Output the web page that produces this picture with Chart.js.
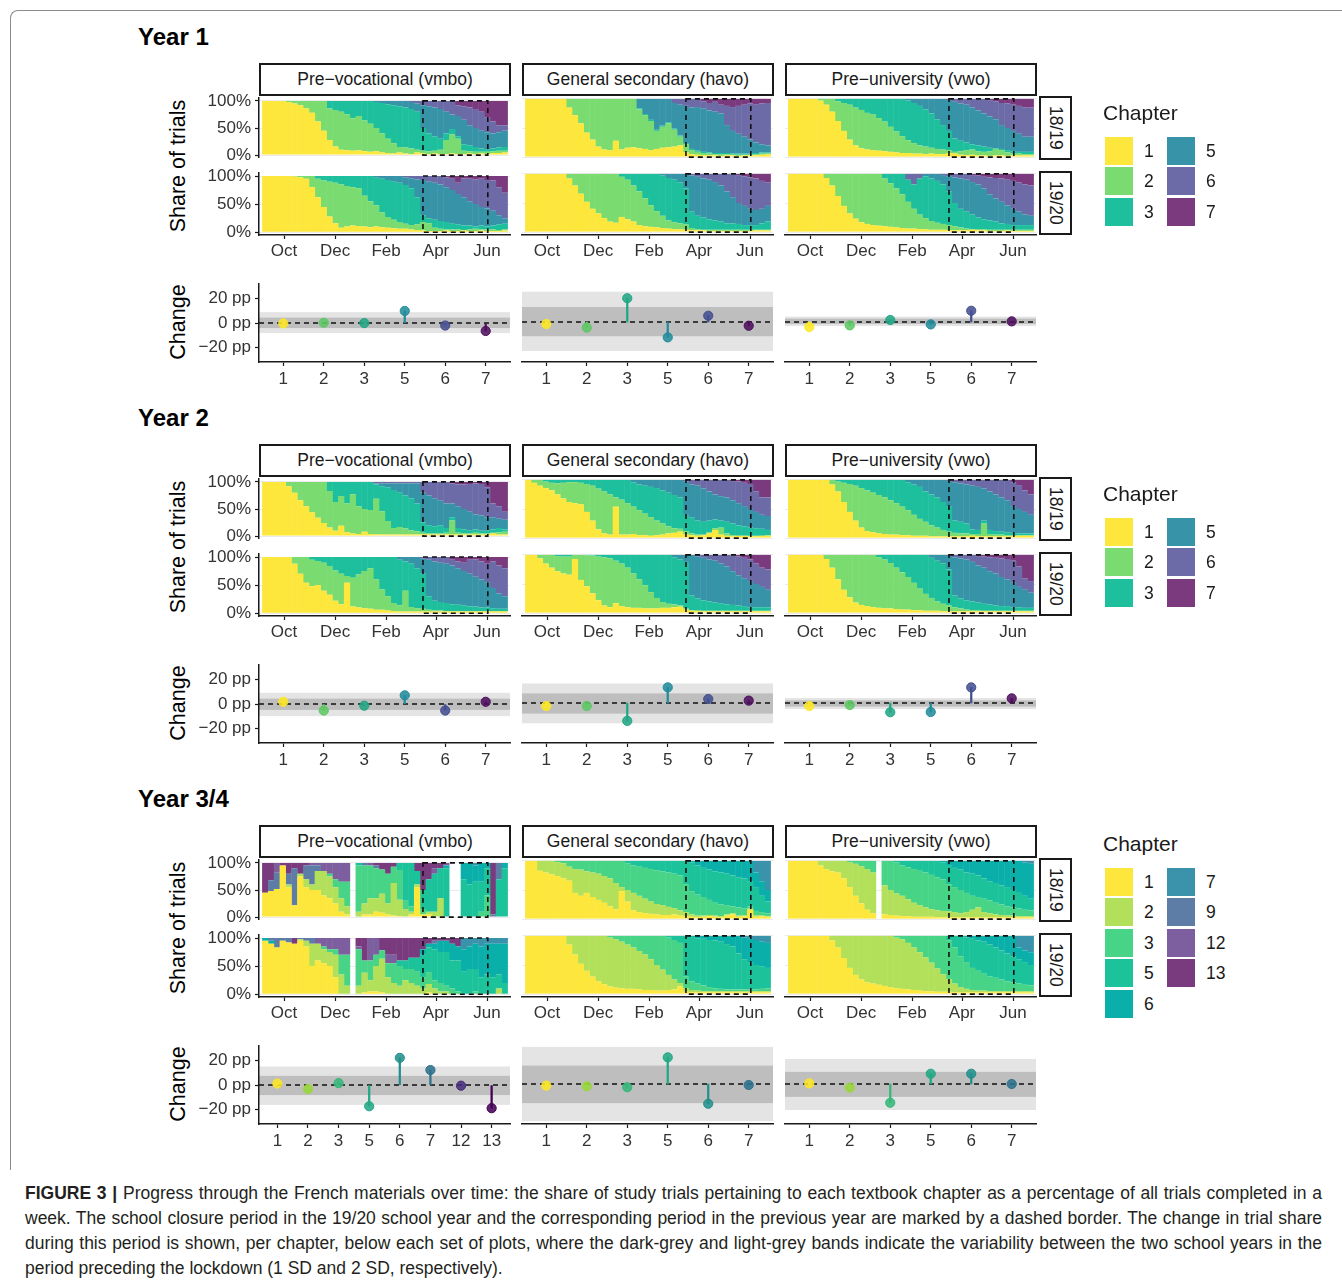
<!DOCTYPE html>
<html><head><meta charset="utf-8">
<script src="https://cdn.jsdelivr.net/npm/chart.js@4.4.1/dist/chart.umd.min.js"></script>
<style>
html,body{margin:0;padding:0;background:#fff;}
#root{position:relative;width:1342px;height:1285px;overflow:hidden;font-family:"Liberation Sans",Arial,Helvetica,sans-serif;color:#1a1a1a;}
canvas{position:absolute;}
.abs{position:absolute;white-space:nowrap;}
.strip{position:absolute;box-sizing:border-box;border:2px solid #1a1a1a;background:#fff;display:flex;align-items:center;justify-content:center;font-size:17.5px;color:#1a1a1a;}
.vstrip{writing-mode:vertical-rl;}
.key{position:absolute;width:28px;height:28px;}
.cap{position:absolute;left:25px;width:1297px;font-size:17.5px;line-height:25px;color:#231f20;white-space:nowrap;}
.just{text-align:justify;text-align-last:justify;}
</style></head>
<body><div id="root"></div>
<script>
// ===================== DATA =====================
const MONTH_LABELS = ['Oct','Dec','Feb','Apr','Jun'];
const MONTH_WEEKS = [3.22, 11.95, 20.68, 29.24, 37.97];
const CLOSURE_WEEKS = [27.0, 38.1];
const CHAPTERS_6 = [1,2,3,5,6,7];
const CHAPTERS_9 = [1,2,3,5,6,7,9,12,13];
const CHANGE_CATS_Y34_VMBO = [1,2,3,5,6,7,12,13];

// cumulative top (%) of chapters 1,2,3,5,6 per week (chapter 7 fills to 100)
const Y1_VMBO_1819 = [
[100,100,100,100,98,95,92,86,78,62,45,28,16,10,9,8,9,7,6,7,5,4,3,5,3,2,5,3,2,3,2,2,3,2,2,3,2,3,2,4,4,5],
[100,100,100,100,100,100,100,100,100,100,100,86,83,80,75,68,72,64,58,50,40,30,22,15,14,12,10,8,7,8,10,28,38,30,8,7,6,6,6,7,8,8],
[100,100,100,100,100,100,100,100,100,100,100,100,100,100,100,100,100,100,100,98,96,94,92,90,88,85,80,50,40,35,30,40,48,35,20,18,15,12,10,12,14,15],
[100,100,100,100,100,100,100,100,100,100,100,100,100,100,100,100,100,100,100,100,100,100,100,100,100,98,95,92,90,88,85,80,75,72,65,55,50,45,42,40,42,45],
[100,100,100,100,100,100,100,100,100,100,100,100,100,100,100,100,100,100,100,100,100,100,100,100,100,100,100,100,100,100,100,100,100,92,90,88,85,80,70,62,55,55]];
const Y1_VMBO_1920 = [
[100,100,100,100,100,99,98,95,80,62,45,28,16,8,10,12,11,10,9,10,9,8,7,6,6,5,4,3,2,2,2,3,2,2,3,2,2,3,2,2,2,3],
[100,100,100,100,100,100,100,100,100,95,92,90,88,85,82,80,78,65,55,48,35,27,22,18,15,13,14,18,16,8,6,5,5,5,4,5,6,5,5,5,4,5],
[100,100,100,100,100,100,100,100,100,100,100,100,100,100,100,100,100,100,100,97,95,93,90,88,84,78,62,30,25,22,20,18,15,14,12,12,10,12,10,12,14,15],
[100,100,100,100,100,100,100,100,100,100,100,100,100,100,100,100,100,100,100,100,100,100,100,100,98,96,94,93,90,88,85,80,75,68,62,55,50,45,42,38,30,25],
[100,100,100,100,100,100,100,100,100,100,100,100,100,100,100,100,100,100,100,100,100,100,100,100,100,100,100,100,100,100,100,98,95,88,96,95,94,95,93,92,80,70]];
const Y1_HAVO_1819 = [
[100,100,100,100,100,100,100,85,72,58,42,30,18,13,12,28,13,16,17,15,14,12,14,16,17,18,20,8,5,4,3,3,3,2,3,3,2,3,3,3,4,5],
[100,100,100,100,100,100,100,100,100,100,100,100,100,100,100,100,100,100,100,82,72,62,45,52,58,47,35,22,12,9,7,6,5,5,5,4,4,4,4,5,6,6],
[100,100,100,100,100,100,100,100,100,100,100,100,100,100,100,100,100,100,100,84,74,64,47,54,60,49,37,24,14,11,9,8,7,7,7,6,6,6,6,7,8,8],
[100,100,100,100,100,100,100,100,100,100,100,100,100,100,100,100,100,100,100,100,100,100,100,100,100,93,90,88,85,86,84,80,78,75,55,45,40,35,30,25,22,20],
[100,100,100,100,100,100,100,100,100,100,100,100,100,100,100,100,100,100,100,100,100,100,100,100,100,100,100,100,100,100,96,93,95,90,88,86,88,90,92,90,92,93]];
const Y1_HAVO_1920 = [
[100,100,100,100,100,100,100,92,80,66,52,40,32,24,18,16,26,22,18,12,10,9,8,7,6,5,5,4,3,3,3,2,2,2,2,2,2,2,2,3,3,3],
[100,100,100,100,100,100,100,100,100,100,100,100,100,100,100,100,95,90,80,70,58,46,36,28,20,17,15,13,7,5,4,4,4,4,4,4,4,4,4,4,4,4],
[100,100,100,100,100,100,100,100,100,100,100,100,100,100,100,100,100,100,100,100,100,100,100,97,93,90,85,75,35,28,25,22,20,18,15,15,14,12,12,12,15,18],
[100,100,100,100,100,100,100,100,100,100,100,100,100,100,100,100,100,100,100,100,100,100,100,100,100,100,100,100,97,95,92,90,86,80,70,60,50,45,40,38,40,45],
[100,100,100,100,100,100,100,100,100,100,100,100,100,100,100,100,100,100,100,100,100,100,100,100,100,100,100,100,100,100,100,100,100,100,100,99,98,96,94,92,88,85]];
const Y1_VWO_1819 = [
[100,100,100,100,100,97,90,78,62,45,30,20,15,13,12,11,10,9,8,7,7,6,6,5,6,5,5,7,6,4,3,4,3,3,2,3,3,2,3,3,3,3],
[100,100,100,100,100,100,100,100,96,93,90,85,81,76,73,67,61,52,44,36,29,24,20,18,16,14,13,12,9,10,12,13,10,9,10,14,12,8,6,6,5,5],
[100,100,100,100,100,100,100,100,100,100,100,100,100,100,100,100,100,100,100,100,97,93,88,82,75,65,55,45,32,28,25,22,20,18,16,15,14,12,10,9,9,9],
[100,100,100,100,100,100,100,100,100,100,100,100,100,100,100,100,100,100,100,100,100,100,100,100,100,100,100,98,95,92,90,85,80,75,70,65,55,50,45,40,35,35],
[100,100,100,100,100,100,100,100,100,100,100,100,100,100,100,100,100,100,100,100,100,100,100,100,100,100,100,100,100,100,100,100,100,100,98,96,93,92,90,88,85,85]];
const Y1_VWO_1920 = [
[100,100,100,100,100,100,93,80,62,45,32,23,17,14,12,11,10,9,8,7,6,6,5,5,4,4,4,3,3,3,3,4,3,3,2,2,2,3,2,2,2,2],
[100,100,100,100,100,100,100,100,100,100,100,100,100,100,100,100,92,84,75,65,52,40,30,24,19,16,14,12,10,8,6,5,5,5,4,4,4,4,4,4,4,4],
[100,100,100,100,100,100,100,100,100,100,100,100,100,100,100,100,100,100,100,100,90,82,92,96,92,88,82,70,50,40,35,30,25,22,20,18,15,14,12,12,12,12],
[100,100,100,100,100,100,100,100,100,100,100,100,100,100,100,100,100,100,100,100,90,82,92,100,100,100,98,96,94,92,90,86,82,75,65,58,52,46,40,35,30,28],
[100,100,100,100,100,100,100,100,100,100,100,100,100,100,100,100,100,100,100,100,100,100,100,100,100,100,100,100,100,100,100,98,97,95,94,93,92,90,88,85,82,80]];

const Y2_VMBO_1819 = [
[100,100,100,100,92,80,66,55,44,34,24,16,10,19,7,5,4,8,4,3,3,3,3,3,3,3,3,3,3,3,3,3,3,3,3,3,3,3,3,5,3,3],
[100,100,100,100,100,100,100,100,100,100,100,83,63,74,60,77,55,50,48,69,46,28,15,17,14,11,9,6,5,5,5,6,29,6,5,5,6,5,5,6,7,8],
[100,100,100,100,100,100,100,100,100,100,100,100,100,100,100,100,100,100,100,95,92,90,85,80,75,70,60,25,20,18,20,15,35,15,12,10,12,10,10,12,15,12],
[100,100,100,100,100,100,100,100,100,100,100,100,100,100,100,100,100,100,100,97,97,97,97,97,97,97,97,80,75,70,65,60,60,55,50,45,40,38,35,35,32,30],
[100,100,100,100,100,100,100,100,100,100,100,100,100,100,100,100,100,100,100,100,100,100,100,100,100,100,100,100,100,100,100,100,97,95,95,96,97,96,90,60,55,45]];
const Y2_VMBO_1920 = [
[100,100,100,100,100,88,70,54,48,50,40,33,22,16,54,12,10,9,8,6,6,5,4,3,3,3,3,3,3,3,3,3,3,3,3,3,3,3,3,3,3,3],
[100,100,100,100,100,100,100,100,95,93,90,84,76,70,66,63,69,75,80,60,42,30,18,14,40,11,9,8,6,5,5,4,4,4,4,4,4,4,4,4,4,4],
[100,100,100,100,100,100,100,100,100,100,100,100,100,100,100,100,100,100,100,100,100,100,100,95,92,88,80,70,30,22,20,18,16,15,14,12,12,10,10,9,8,8],
[100,100,100,100,100,100,100,100,100,100,100,100,100,100,100,100,100,100,100,100,100,100,100,100,100,100,100,97,95,92,90,88,85,80,75,70,65,60,55,45,35,30],
[100,100,100,100,100,100,100,100,100,100,100,100,100,100,100,100,100,100,100,100,100,100,100,100,100,100,100,100,100,100,100,100,95,92,90,95,96,92,88,92,85,80]];
const Y2_HAVO_1819 = [
[100,95,90,86,82,75,68,62,60,58,45,30,15,8,6,54,6,6,7,5,5,4,5,6,8,9,11,6,5,4,5,8,14,6,4,3,4,4,3,3,4,4],
[100,100,100,97,95,94,95,96,96,95,93,90,85,80,75,70,66,60,54,48,42,36,30,25,20,17,16,12,8,6,6,10,17,18,8,5,4,4,4,4,4,5],
[100,100,100,100,100,100,100,100,100,100,100,100,100,100,100,100,100,100,96,92,90,88,86,82,78,74,70,40,35,30,28,30,32,30,28,25,22,20,18,17,16,14],
[100,100,100,100,100,100,100,100,100,100,100,100,100,100,100,100,100,100,100,100,100,100,100,100,100,100,100,97,92,90,85,80,75,72,70,65,60,55,50,45,40,38],
[100,100,100,100,100,100,100,100,100,100,100,100,100,100,100,100,100,100,100,100,100,100,100,100,100,100,100,100,100,100,100,100,100,100,100,98,97,95,93,80,70,70]];
const Y2_HAVO_1920 = [
[100,100,94,85,78,72,68,66,93,57,46,34,22,13,10,17,12,10,9,9,8,8,8,9,9,10,11,6,4,3,3,3,3,3,3,3,3,3,3,3,3,3],
[100,100,100,100,100,98,97,97,100,100,99,99,97,96,94,90,85,78,68,58,48,36,26,19,16,15,13,8,5,5,4,4,4,4,4,4,4,4,4,4,4,4],
[100,100,100,100,100,100,100,100,100,100,100,100,100,100,100,100,100,100,100,100,100,100,100,100,100,96,92,88,30,25,22,20,18,17,15,14,13,12,10,10,10,10],
[100,100,100,100,100,100,100,100,100,100,100,100,100,100,100,100,100,100,100,100,100,100,100,100,100,100,100,100,100,97,95,92,90,85,80,72,65,60,55,50,45,40],
[100,100,100,100,100,100,100,100,100,100,100,100,100,100,100,100,100,100,100,100,100,100,100,100,100,100,100,100,100,100,100,100,100,100,100,99,97,95,92,85,78,75]];
const Y2_VWO_1819 = [
[100,100,100,100,100,100,100,92,80,62,45,30,18,12,10,8,7,6,6,5,5,4,4,4,3,3,3,3,3,3,3,4,3,3,3,3,3,3,3,4,4,4],
[100,100,100,100,100,100,100,100,97,95,93,90,86,82,78,74,70,65,60,54,48,40,33,28,22,18,14,11,9,8,8,7,7,25,7,6,6,5,5,5,5,5],
[100,100,100,100,100,100,100,100,100,100,100,100,100,100,100,100,100,100,100,100,96,92,88,80,75,70,62,55,30,28,25,15,14,30,14,12,11,10,9,8,8,8],
[100,100,100,100,100,100,100,100,100,100,100,100,100,100,100,100,100,100,100,100,100,100,100,100,100,100,100,98,96,94,92,90,88,85,80,75,70,65,55,50,45,40],
[100,100,100,100,100,100,100,100,100,100,100,100,100,100,100,100,100,100,100,100,100,100,100,100,100,100,100,100,100,100,100,100,100,100,100,100,100,100,96,90,82,75]];
const Y2_VWO_1920 = [
[100,100,100,100,100,100,93,78,58,40,27,18,14,12,10,9,8,8,7,6,6,5,5,4,4,4,3,3,3,3,3,3,3,3,3,3,3,3,3,3,3,3],
[100,100,100,100,100,100,100,100,100,100,100,100,100,100,100,96,92,86,78,70,62,52,42,33,26,20,16,13,10,8,6,5,5,4,4,4,4,4,4,4,4,4],
[100,100,100,100,100,100,100,100,100,100,100,100,100,100,100,100,100,100,100,100,100,100,100,100,95,90,85,75,30,25,22,20,18,16,15,13,12,12,10,10,9,9],
[100,100,100,100,100,100,100,100,100,100,100,100,100,100,100,100,100,100,100,100,100,100,100,100,100,100,100,98,96,94,92,88,82,78,72,68,62,58,52,45,40,35],
[100,100,100,100,100,100,100,100,100,100,100,100,100,100,100,100,100,100,100,100,100,100,100,100,100,100,100,100,100,100,100,100,98,97,96,95,94,93,90,80,60,55]];

const Y34_HAVO_1819 = [
[100,100,83,80,77,74,70,66,45,40,45,38,33,28,22,17,48,30,15,12,10,9,8,7,7,8,6,5,4,3,4,5,4,3,6,8,4,5,16,4,5,4],
[100,100,100,100,100,98,96,90,86,85,82,80,78,74,70,62,55,50,45,40,35,30,26,24,21,19,15,12,8,6,6,7,6,5,8,10,6,6,18,6,6,5],
[100,100,100,100,100,100,100,100,100,100,100,100,100,100,100,100,100,96,92,90,88,86,84,82,80,78,75,60,48,42,38,33,28,25,24,22,20,18,22,14,12,10],
[100,100,100,100,100,100,100,100,100,100,100,100,100,100,100,100,100,100,100,100,100,100,100,100,100,100,100,100,97,92,88,85,82,80,78,75,72,70,65,55,40,30],
[100,100,100,100,100,100,100,100,100,100,100,100,100,100,100,100,100,100,100,100,100,100,100,100,100,100,100,100,100,100,100,100,100,100,100,100,100,100,100,80,65,50]];
const Y34_HAVO_1920 = [
[100,100,100,100,100,100,100,85,68,52,40,30,22,17,13,11,10,9,9,8,7,7,6,6,7,8,13,4,3,3,3,3,3,3,3,3,3,3,3,3,3,3],
[100,100,100,100,100,100,100,100,100,100,100,100,100,100,97,94,90,85,80,74,68,60,50,42,33,25,19,10,7,6,5,5,5,5,5,5,5,5,5,5,5,5],
[100,100,100,100,100,100,100,100,100,100,100,100,100,100,100,100,100,100,100,100,100,100,100,100,97,93,88,30,22,18,15,12,10,9,8,8,8,8,8,8,9,10],
[100,100,100,100,100,100,100,100,100,100,100,100,100,100,100,100,100,100,100,100,100,100,100,100,100,100,100,100,98,96,95,93,92,90,86,82,70,60,55,50,48,45],
[100,100,100,100,100,100,100,100,100,100,100,100,100,100,100,100,100,100,100,100,100,100,100,100,100,100,100,100,100,100,100,100,100,100,100,100,100,97,95,93,90,88]];
const Y34_VWO_1819 = [
[100,100,100,100,100,92,86,82,80,70,55,40,27,16,10,null,8,7,6,5,5,4,4,4,4,3,3,3,3,3,3,3,3,3,3,3,3,3,3,3,3,3],
[100,100,100,100,100,100,100,100,100,100,98,95,91,86,80,null,58,50,44,40,34,28,24,20,17,15,14,13,12,10,12,16,20,12,10,8,7,6,6,5,5,5],
[100,100,100,100,100,100,100,100,100,100,100,100,100,100,100,null,100,100,97,92,89,86,83,80,76,72,68,60,55,50,45,40,38,35,32,28,25,22,20,18,16,15],
[100,100,100,100,100,100,100,100,100,100,100,100,100,100,100,null,100,100,100,100,100,100,100,100,100,100,97,93,88,85,80,78,75,70,65,62,58,55,50,45,40,35],
[100,100,100,100,100,100,100,100,100,100,100,100,100,100,100,null,100,100,100,100,100,100,100,100,100,100,100,100,100,100,100,100,100,100,100,100,100,100,100,100,97,95]];
const Y34_VWO_1920 = [
[100,100,100,100,100,100,100,92,80,62,45,33,25,20,18,16,14,12,10,9,8,7,6,5,5,4,4,4,3,3,3,3,3,3,3,3,3,3,3,3,3,3],
[100,100,100,100,100,100,100,100,100,100,100,100,100,100,100,100,100,100,97,94,88,80,72,63,54,44,34,26,18,12,9,7,6,6,5,5,5,5,5,5,5,5],
[100,100,100,100,100,100,100,100,100,100,100,100,100,100,100,100,100,100,100,100,100,100,100,100,100,100,100,92,80,65,55,45,40,35,30,28,25,22,20,18,16,15],
[100,100,100,100,100,100,100,100,100,100,100,100,100,100,100,100,100,100,100,100,100,100,100,100,100,100,100,100,100,100,97,95,92,90,85,80,75,70,65,60,55,50],
[100,100,100,100,100,100,100,100,100,100,100,100,100,100,100,100,100,100,100,100,100,100,100,100,100,100,100,100,100,100,100,100,100,100,100,100,100,100,100,80,75,72]];

// weekly shares (%) of chapters 1,2,3,5,6,7,9,12,13 (Year 3/4 vmbo); all-zero week = no data
const Y34_VMBO_1819 = [
[45,48,52,95,55,22,75,55,50,50,40,35,25,10,5,0,0,5,5,10,8,5,3,2,0,5,55,5,5,0,0,0,0,0,0,0,0,0,0,0,0,0],
[0,0,0,0,5,0,5,15,10,35,45,40,30,25,15,0,10,20,30,25,35,20,60,30,15,5,5,0,5,10,35,0,0,0,0,0,0,0,0,0,0,0],
[0,0,0,0,0,0,0,0,0,0,0,5,15,30,45,0,85,70,60,55,45,55,30,55,15,10,0,10,0,0,0,0,0,0,0,0,0,10,40,0,0,0],
[0,0,0,0,0,0,0,0,0,0,0,0,0,0,0,0,5,0,0,0,0,0,0,13,70,80,25,35,60,70,55,90,0,0,70,60,65,55,50,0,70,90],
[0,0,0,0,0,0,0,0,0,0,0,0,0,0,0,0,0,0,0,0,0,0,0,0,0,0,0,0,0,0,0,5,0,0,30,40,30,35,10,0,0,10],
[0,0,0,0,0,0,0,0,0,0,0,0,0,0,0,0,0,0,0,0,0,0,0,0,0,0,0,0,0,0,0,0,0,0,0,0,5,0,0,0,0,0],
[0,20,30,0,20,68,0,25,35,10,0,0,0,0,0,0,0,5,0,5,0,0,0,0,0,0,0,0,0,0,0,0,0,0,0,0,0,0,0,5,30,0],
[0,0,18,0,0,0,0,0,5,5,15,20,30,35,35,0,0,0,5,0,0,0,0,0,0,0,0,0,0,10,0,5,0,0,0,0,0,0,0,0,0,0],
[55,32,0,5,20,10,20,5,0,0,0,0,0,0,0,0,0,0,0,5,12,20,7,0,0,0,15,50,30,10,10,0,0,0,0,0,0,0,0,95,0,0]];
const Y34_VMBO_1920 = [
[95,90,83,95,92,90,95,85,50,60,55,50,30,0,0,0,0,3,5,5,3,0,0,0,0,0,0,0,3,0,0,0,0,0,0,0,0,0,0,0,0,0],
[0,0,0,0,0,0,3,10,40,30,25,25,40,35,15,0,15,35,20,45,60,30,20,15,25,20,15,10,15,10,5,5,0,0,0,0,0,0,0,0,10,0],
[0,0,0,0,0,0,0,0,0,0,5,5,10,35,55,0,65,22,35,20,15,25,35,35,20,25,25,20,20,15,15,10,10,5,0,0,5,0,0,0,0,0],
[0,0,0,0,0,0,0,0,0,0,0,0,0,0,0,0,0,0,0,0,0,0,0,10,15,20,25,40,45,55,55,60,50,55,40,45,40,30,35,30,25,20],
[5,5,0,0,0,0,0,0,0,0,0,0,0,0,0,0,0,0,0,0,0,0,0,0,0,0,0,10,7,10,20,20,30,25,40,40,45,55,55,60,55,70],
[0,0,0,0,0,0,0,0,0,0,0,0,0,0,0,0,0,0,0,0,0,0,0,0,0,0,0,0,0,0,0,0,0,0,20,15,10,15,10,10,10,10],
[0,5,17,5,8,0,2,5,10,0,0,0,0,0,0,0,0,0,0,0,0,0,0,0,0,0,0,0,0,5,0,0,0,0,0,0,0,0,0,0,0,0],
[0,0,0,0,0,0,0,0,0,10,15,20,20,30,30,0,5,0,40,30,0,15,15,0,0,0,0,0,0,0,0,0,0,0,0,0,0,0,0,0,0,0],
[0,0,0,0,0,10,0,0,0,0,0,0,0,0,0,0,15,40,0,0,22,30,30,40,40,35,35,20,10,5,5,5,10,15,0,0,0,0,0,0,0,0]];

// change in closure-period share (pp) and variability bands [-2SD, +2SD, -1SD, +1SD]
const Y1_VMBO_CHANGE = [-0.3, 0.3, 0, 10, -2, -6.5];
const Y1_VMBO_BANDS  = [-8.2, 9, -4.1, 4.5];
const Y1_HAVO_CHANGE = [-1.6, -4.5, 19, -12.3, 5, -3];
const Y1_HAVO_BANDS  = [-23.2, 24.2, -11.4, 12];
const Y1_VWO_CHANGE  = [-4, -2.7, 1.6, -1.9, 9, 0.5];
const Y1_VWO_BANDS   = [-3.2, 4.3, -1.6, 2.7];
const Y2_VMBO_CHANGE = [1.9, -5.3, -1.3, 7.2, -5.3, 1.9];
const Y2_VMBO_BANDS  = [-9.9, 9.3, -4.8, 4.5];
const Y2_HAVO_CHANGE = [-2.4, -2.4, -14.3, 12.5, 3.2, 1.9];
const Y2_HAVO_BANDS  = [-16.2, 15.6, -8.5, 7.7];
const Y2_VWO_CHANGE  = [-2.4, -1.6, -7.4, -7.2, 12.5, 3.7];
const Y2_VWO_BANDS   = [-4.8, 4, -2.9, 2.1];
const Y34_VMBO_CHANGE = [1.3, -3.2, 1.6, -17.4, 22.4, 12.4, -0.5, -19];
const Y34_VMBO_BANDS  = [-16.3, 15.3, -8.2, 7.6];
const Y34_HAVO_CHANGE = [-1.3, -1.8, -2.6, 21.3, -15.8, -0.8];
const Y34_HAVO_BANDS  = [-29.7, 29.7, -15.3, 14.7];
const Y34_VWO_CHANGE  = [0.5, -2.9, -15, 8.2, 8.2, 0];
const Y34_VWO_BANDS   = [-20.8, 20, -10.3, 9.7];

const TRACKS = ['Pre\u2212vocational (vmbo)', 'General secondary (havo)', 'Pre\u2212university (vwo)'];
const SCHOOL_YEARS = ['18/19', '19/20'];
const CHANGE_TICKS = [-20, 0, 20];
const SHARE_TICKS = [0, 50, 100];

// ===================== STYLE =====================
const FONT = '"Liberation Sans", Arial, Helvetica, sans-serif';
Chart.defaults.font.family = FONT;
const FILL6 = {1:'#FDE73C',2:'#79DB70',3:'#1DBF9D',5:'#3794A8',6:'#6C6BA8',7:'#7B3A7E'};
const FILL9 = {1:'#FDE73C',2:'#B2E05A',3:'#47D486',5:'#1CC39A',6:'#0BAFAA',7:'#3A92AB',9:'#5E7DA6',12:'#7D5FA0',13:'#7A3A7E'};
const DOT6 = {1:'#FDE725',2:'#5DC863',3:'#21A685',5:'#228C9B',6:'#444F90',7:'#4E0F5E'};
const DOT9 = {1:'#FDE725',2:'#9AD83C',3:'#35B779',5:'#22A884',6:'#21908C',7:'#2C728E',9:'#3B528B',12:'#472D7B',13:'#440154'};

const COLX = [259, 522, 785];
const PW = 251;
const YOFF = [0, 381, 762];
const ROW_TOP = [96, 171];
const PH = 64;
const LOLLY_TOP = 282, LOLLY_H = 80;
const AXW = 60, PAD = 12, XAXH = 30;
const AXIS_COL = '#1a1a1a', TICK_TXT = '#333333';
const TICK_FONT = 17;

const root = document.getElementById('root');
function addDiv(cls, css, html) {
  const d = document.createElement('div');
  if (cls) d.className = cls;
  Object.assign(d.style, css);
  if (html !== undefined) d.innerHTML = html;
  root.appendChild(d);
  return d;
}
function makeCanvas(left, top, w, h) {
  const c = document.createElement('canvas');
  c.width = w; c.height = h;
  Object.assign(c.style, {left: left + 'px', top: top + 'px', width: w + 'px', height: h + 'px'});
  root.appendChild(c);
  return c;
}

function sharesFromTops(tops, nCh) {
  const out = [];
  for (let c = 0; c < nCh; c++) out.push([]);
  for (let w = 0; w < tops[0].length; w++) {
    if (tops[0][w] === null) { for (let c = 0; c < nCh; c++) out[c].push(0); continue; }
    let prev = 0;
    for (let c = 0; c < nCh; c++) {
      const top = c < tops.length ? Math.max(prev, tops[c][w]) : 100;
      out[c].push(top - prev);
      prev = top;
    }
  }
  return out;
}
function normShares(sh) {
  const n = sh[0].length, out = sh.map(() => []);
  for (let w = 0; w < n; w++) {
    let s = 0; sh.forEach(a => s += a[w]);
    sh.forEach((a, c) => out[c].push(s > 0 ? a[w] * 100 / s : 0));
  }
  return out;
}

const closureBox = {
  id: 'closureBox',
  afterDatasetsDraw(chart) {
    const {ctx, scales: {x, y}} = chart;
    const x0 = x.getPixelForValue(CLOSURE_WEEKS[0]), x1 = x.getPixelForValue(CLOSURE_WEEKS[1]);
    const y0 = y.getPixelForValue(100), y1 = y.getPixelForValue(0);
    ctx.save();
    ctx.setLineDash([5, 4]);
    ctx.lineWidth = 1.6;
    ctx.strokeStyle = '#111';
    ctx.strokeRect(x0, y0, x1 - x0, y1 - y0);
    ctx.restore();
  }
};

function stackedChart(yi, col, row, chapters, fills, shares) {
  const isLeft = col === 0, isBottom = row === 1;
  const padL = isLeft ? 0 : PAD, axW = isLeft ? AXW : 0;
  const left = COLX[col] - axW - padL;
  const top = ROW_TOP[row] + YOFF[yi] - PAD;
  const w = axW + padL + PW + PAD;
  const h = PAD + PH + (isBottom ? XAXH : PAD);
  const canvas = makeCanvas(left, top, w, h);
  const datasets = chapters.map((ch, i) => ({
    label: 'Chapter ' + ch,
    data: shares[i].map((v, k) => ({x: k, y: v})),
    backgroundColor: fills[ch],
    borderWidth: 0,
    barPercentage: 1.08,
    categoryPercentage: 1
  }));
  new Chart(canvas, {
    type: 'bar',
    data: {datasets},
    plugins: [closureBox],
    options: {
      responsive: false, animation: false, devicePixelRatio: 1,
      layout: {padding: {left: padL, right: PAD, top: PAD, bottom: isBottom ? 0 : PAD}},
      plugins: {legend: {display: false}, tooltip: {enabled: false}},
      scales: {
        x: {
          type: 'linear', stacked: true, min: -1.07, max: 41.9, offset: false, display: isBottom,
          afterBuildTicks: s => { s.ticks = MONTH_WEEKS.map(v => ({value: v})); },
          afterTickToLabelConversion: s => { s.ticks.forEach((t, i) => { t.label = MONTH_LABELS[i]; }); },
          afterFit: s => { if (isBottom) s.height = XAXH; },
          grid: {display: true, offset: false, drawOnChartArea: false, drawTicks: true, tickLength: 4, tickColor: AXIS_COL, tickWidth: 1.2},
          border: {display: true, color: AXIS_COL, width: 1.5, z: 1},
          ticks: {font: {size: TICK_FONT}, color: TICK_TXT, padding: 2, maxRotation: 0, autoSkip: false}
        },
        y: {
          stacked: true, min: -5, max: 105, display: true,
          afterBuildTicks: s => { s.ticks = SHARE_TICKS.map(v => ({value: v})); },
          afterFit: s => { s.width = axW; },
          grid: {display: true, offset: false, color: '#EBEBEB', drawTicks: isLeft, tickLength: 4, tickColor: AXIS_COL, tickWidth: 1.2},
          border: {display: isLeft, color: AXIS_COL, width: 1.5, z: 1},
          ticks: {display: isLeft, callback: v => v + '%', font: {size: TICK_FONT}, color: TICK_TXT, padding: 4}
        }
      }
    }
  });
}

function lollyChart(yi, col, cats, values, bands, dots) {
  const isLeft = col === 0;
  const padL = isLeft ? 0 : PAD, axW = isLeft ? AXW : 0;
  const left = COLX[col] - axW - padL;
  const top = LOLLY_TOP + YOFF[yi] - PAD;
  const w = axW + padL + PW + PAD;
  const h = PAD + LOLLY_H + XAXH;
  const canvas = makeCanvas(left, top, w, h);
  const n = cats.length;
  const colors = cats.map(c => dots[c]);
  const bandPlugin = {
    id: 'bands',
    beforeDatasetsDraw(chart) {
      const {ctx, chartArea: a, scales: {y}} = chart;
      ctx.save();
      ctx.fillStyle = '#E4E4E4';
      let y0 = y.getPixelForValue(bands[1]), y1 = y.getPixelForValue(bands[0]);
      ctx.fillRect(a.left, y0, a.right - a.left, y1 - y0);
      ctx.fillStyle = '#BEBEBE';
      y0 = y.getPixelForValue(bands[3]); y1 = y.getPixelForValue(bands[2]);
      ctx.fillRect(a.left, y0, a.right - a.left, y1 - y0);
      const yz = y.getPixelForValue(0);
      ctx.setLineDash([5, 4]);
      ctx.lineWidth = 1.5;
      ctx.strokeStyle = '#111';
      ctx.beginPath(); ctx.moveTo(a.left, yz); ctx.lineTo(a.right, yz); ctx.stroke();
      ctx.restore();
    }
  };
  new Chart(canvas, {
    type: 'bar',
    data: {datasets: [
      {type: 'bar', data: values.map((v, i) => ({x: i + 1, y: [0, v]})), backgroundColor: colors, barThickness: 1.6, borderWidth: 0},
      {type: 'line', data: values.map((v, i) => ({x: i + 1, y: v})), showLine: false, pointRadius: 4.6, pointHoverRadius: 4.6,
       pointBackgroundColor: colors.map(c => c + 'DD'), pointBorderColor: colors, pointBorderWidth: 1}
    ]},
    plugins: [bandPlugin],
    options: {
      responsive: false, animation: false, devicePixelRatio: 1,
      layout: {padding: {left: padL, right: PAD, top: PAD, bottom: 0}},
      plugins: {legend: {display: false}, tooltip: {enabled: false}},
      scales: {
        x: {
          type: 'linear', min: 0.4, max: n + 0.6, offset: false,
          afterBuildTicks: s => { s.ticks = cats.map((c, i) => ({value: i + 1})); },
          afterTickToLabelConversion: s => { s.ticks.forEach((t, i) => { t.label = String(cats[i]); }); },
          afterFit: s => { s.height = XAXH; },
          grid: {display: true, offset: false, drawOnChartArea: false, tickLength: 4, tickColor: AXIS_COL, tickWidth: 1.2},
          border: {display: true, color: AXIS_COL, width: 1.5, z: 1},
          ticks: {font: {size: TICK_FONT}, color: TICK_TXT, padding: 3, maxRotation: 0, autoSkip: false}
        },
        y: {
          min: -32, max: 32, display: true,
          afterBuildTicks: s => { s.ticks = CHANGE_TICKS.map(v => ({value: v})); },
          afterFit: s => { s.width = axW; },
          grid: {display: isLeft, offset: false, drawOnChartArea: false, tickLength: 4, tickColor: AXIS_COL, tickWidth: 1.2},
          border: {display: isLeft, color: AXIS_COL, width: 1.5, z: 1},
          ticks: {display: isLeft, callback: v => (v < 0 ? '\u2212' + Math.abs(v) : v) + ' pp', font: {size: TICK_FONT}, color: TICK_TXT, padding: 4}
        }
      }
    }
  });
}

function legend(yi, keysTop, chapters, fills, rowsPerCol) {
  addDiv('abs', {left: '1103px', top: (keysTop - 35) + 'px', fontSize: '21px', lineHeight: '21px'}, 'Chapter');
  chapters.forEach((ch, i) => {
    const c = Math.floor(i / rowsPerCol), r = i % rowsPerCol;
    const kx = 1105 + c * 62, ky = keysTop + r * 30.4;
    addDiv('key', {left: kx + 'px', top: ky + 'px', background: fills[ch]});
    addDiv('abs', {left: (kx + 39) + 'px', top: ky + 'px', fontSize: '17.5px', lineHeight: '28px'}, String(ch));
  });
}

// ===================== BUILD =====================
const YEARS = [
  {title: 'Year 1', fills: FILL6, dots: DOT6, keysTop: 137, legendChapters: CHAPTERS_6, rows: 3,
   panels: [[Y1_VMBO_1819, Y1_VMBO_1920], [Y1_HAVO_1819, Y1_HAVO_1920], [Y1_VWO_1819, Y1_VWO_1920]],
   kinds: ['tops', 'tops', 'tops'], chap: [CHAPTERS_6, CHAPTERS_6, CHAPTERS_6],
   change: [[CHAPTERS_6, Y1_VMBO_CHANGE, Y1_VMBO_BANDS], [CHAPTERS_6, Y1_HAVO_CHANGE, Y1_HAVO_BANDS], [CHAPTERS_6, Y1_VWO_CHANGE, Y1_VWO_BANDS]]},
  {title: 'Year 2', fills: FILL6, dots: DOT6, keysTop: 518, legendChapters: CHAPTERS_6, rows: 3,
   panels: [[Y2_VMBO_1819, Y2_VMBO_1920], [Y2_HAVO_1819, Y2_HAVO_1920], [Y2_VWO_1819, Y2_VWO_1920]],
   kinds: ['tops', 'tops', 'tops'], chap: [CHAPTERS_6, CHAPTERS_6, CHAPTERS_6],
   change: [[CHAPTERS_6, Y2_VMBO_CHANGE, Y2_VMBO_BANDS], [CHAPTERS_6, Y2_HAVO_CHANGE, Y2_HAVO_BANDS], [CHAPTERS_6, Y2_VWO_CHANGE, Y2_VWO_BANDS]]},
  {title: 'Year 3/4', fills: FILL9, dots: DOT9, keysTop: 868, legendChapters: CHAPTERS_9, rows: 5,
   panels: [[Y34_VMBO_1819, Y34_VMBO_1920], [Y34_HAVO_1819, Y34_HAVO_1920], [Y34_VWO_1819, Y34_VWO_1920]],
   kinds: ['shares', 'tops', 'tops'], chap: [CHAPTERS_9, CHAPTERS_6, CHAPTERS_6],
   change: [[CHANGE_CATS_Y34_VMBO, Y34_VMBO_CHANGE, Y34_VMBO_BANDS], [CHAPTERS_6, Y34_HAVO_CHANGE, Y34_HAVO_BANDS], [CHAPTERS_6, Y34_VWO_CHANGE, Y34_VWO_BANDS]]}
];

// frame
addDiv('', {position: 'absolute', left: '10px', top: '10px', width: '1340px', height: '1160px', borderTop: '1px solid #8c8c8c', borderLeft: '1px solid #8c8c8c', borderTopLeftRadius: '8px', boxSizing: 'border-box'});

YEARS.forEach((Y, yi) => {
  const off = YOFF[yi];
  addDiv('abs', {left: '138px', top: (25 + off) + 'px', fontSize: '24px', lineHeight: '24px', fontWeight: 'bold', color: '#000'}, Y.title);
  TRACKS.forEach((t, col) => {
    addDiv('strip', {left: COLX[col] + 'px', top: (63 + off) + 'px', width: (PW + 1) + 'px', height: '33px'}, t);
  });
  SCHOOL_YEARS.forEach((s, row) => {
    addDiv('strip vstrip', {left: '1039px', top: (ROW_TOP[row] + off) + 'px', width: '33px', height: (PH) + 'px'}, s);
  });
  addDiv('abs', {left: (178 - 100) + 'px', top: (166 + off - 12) + 'px', width: '200px', textAlign: 'center', fontSize: '21.5px', lineHeight: '24px', transform: 'rotate(-90deg)', color: '#000'}, 'Share of trials');
  addDiv('abs', {left: (178 - 100) + 'px', top: (322 + off - 12) + 'px', width: '200px', textAlign: 'center', fontSize: '21.5px', lineHeight: '24px', transform: 'rotate(-90deg)', color: '#000'}, 'Change');
  Y.panels.forEach((pair, col) => {
    pair.forEach((data, row) => {
      const chs = Y.chap[col];
      const shares = Y.kinds[col] === 'tops' ? sharesFromTops(data, chs.length) : normShares(data);
      stackedChart(yi, col, row, chs, Y.fills, shares);
    });
    const [cats, vals, bands] = Y.change[col];
    lollyChart(yi, col, cats, vals, bands, Y.dots);
  });
  legend(yi, Y.keysTop, Y.legendChapters, Y.fills, Y.rows);
});

// caption
const CAPTION = [
  '<b>FIGURE 3 |</b> Progress through the French materials over time: the share of study trials pertaining to each textbook chapter as a percentage of all trials completed in a',
  'week. The school closure period in the 19/20 school year and the corresponding period in the previous year are marked by a dashed border. The change in trial share',
  'during this period is shown, per chapter, below each set of plots, where the dark-grey and light-grey bands indicate the variability between the two school years in the',
  'period preceding the lockdown (1 SD and 2 SD, respectively).'
];
CAPTION.forEach((line, i) => {
  addDiv('cap' + (i < 3 ? ' just' : ''), {top: (1181 + i * 25) + 'px'}, line);
});
</script>
</body></html>
